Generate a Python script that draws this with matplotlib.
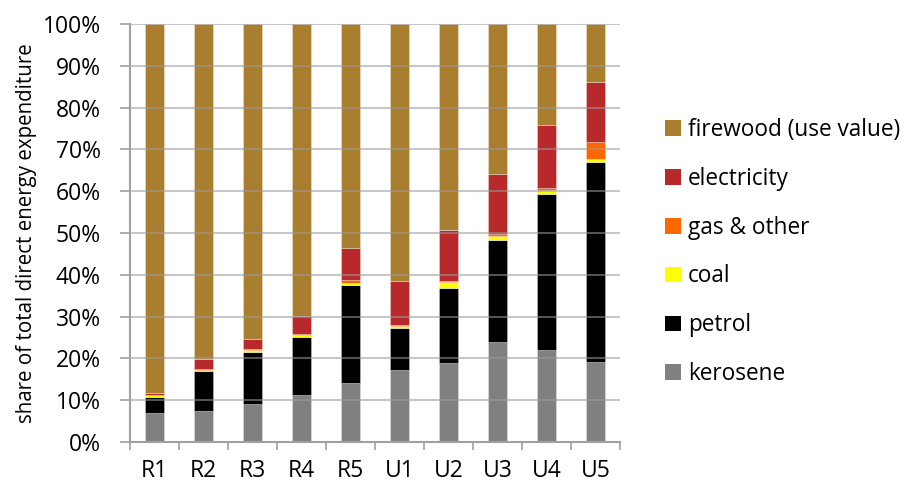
import matplotlib.pyplot as plt
import numpy as np
from matplotlib.patches import Patch

plt.rcParams['font.family'] = ['Open Sans', 'DejaVu Sans']

groups = ['R1', 'R2', 'R3', 'R4', 'R5', 'U1', 'U2', 'U3', 'U4', 'U5']

# shares in percent
kerosene = [6.9, 7.5, 9.0, 11.3, 14.2, 17.2, 18.8, 23.9, 21.9, 19.1]
petrol = [3.9, 9.5, 12.6, 13.9, 23.4, 10.1, 18.1, 24.4, 37.4, 48.0]
coal = [0.4, 0.3, 0.5, 0.5, 0.4, 0.5, 1.4, 1.1, 0.9, 0.5]
gas_other = [0.1, 0.1, 0.1, 0.1, 0.7, 0.2, 0.2, 0.4, 0.5, 4.2]
electricity = [0.5, 2.4, 2.5, 4.3, 7.8, 10.5, 12.1, 14.4, 15.1, 14.4]
firewood = [100 - sum(v) for v in zip(kerosene, petrol, coal, gas_other, electricity)]

series = [
    ('kerosene', kerosene, '#808080'),
    ('petrol', petrol, '#000000'),
    ('coal', coal, '#FFFF00'),
    ('gas & other', gas_other, '#FF6600'),
    ('electricity', electricity, '#B8292B'),
    ('firewood (use value)', firewood, '#A97F2F'),
]

fig = plt.figure(figsize=(9.08, 4.86), dpi=100)
ax = fig.add_axes([130 / 908, 1 - 442 / 486, 490 / 908, 418 / 486])

x = np.arange(len(groups))
bottom = np.zeros(len(groups))
for name, vals, col in series:
    ax.bar(x, vals, 0.4, bottom=bottom, color=col, edgecolor=(1, 1, 1, 0.35),
           linewidth=0.6, zorder=1)
    bottom += np.array(vals)

# gridlines sit over the bars, slightly see-through
for yv in range(10, 101, 10):
    ax.axhline(yv, color='#9A9A9A', alpha=0.55, linewidth=1.5, zorder=2)

ax.set_xlim(-0.5, len(groups) - 0.5)
ax.set_ylim(0, 100)
ax.set_yticks(range(0, 101, 10))
ax.set_yticklabels([f'{v}%' for v in range(0, 101, 10)], fontsize=16.5)
ax.set_xticks(x)
ax.set_xticklabels(groups, fontsize=16.5)
ax.set_xticks(np.arange(-0.5, len(groups), 1), minor=True)
ax.tick_params(axis='x', which='major', length=0, pad=12)
ax.tick_params(axis='x', which='minor', length=6, width=1.2, color='#A0A0A0')
ax.tick_params(axis='y', length=7, width=1.2, color='#A0A0A0', pad=14)

for s in ['top', 'right']:
    ax.spines[s].set_visible(False)
for s in ['left', 'bottom']:
    ax.spines[s].set_color('#A0A0A0')
    ax.spines[s].set_linewidth(1.5)

ax.set_ylabel('share of total direct energy expenditure', fontsize=14.8, labelpad=4)

handles = [Patch(facecolor=col, edgecolor='none', label=name)
           for name, vals, col in reversed(series)]
fig.legend(handles=handles, loc='center left', bbox_to_anchor=(645 / 908, 1 - 252 / 486),
           frameon=False, fontsize=16.3, handlelength=0.7, handleheight=0.7,
           handletextpad=0.3, labelspacing=1.1)

fig.savefig('out.png', dpi=100)
